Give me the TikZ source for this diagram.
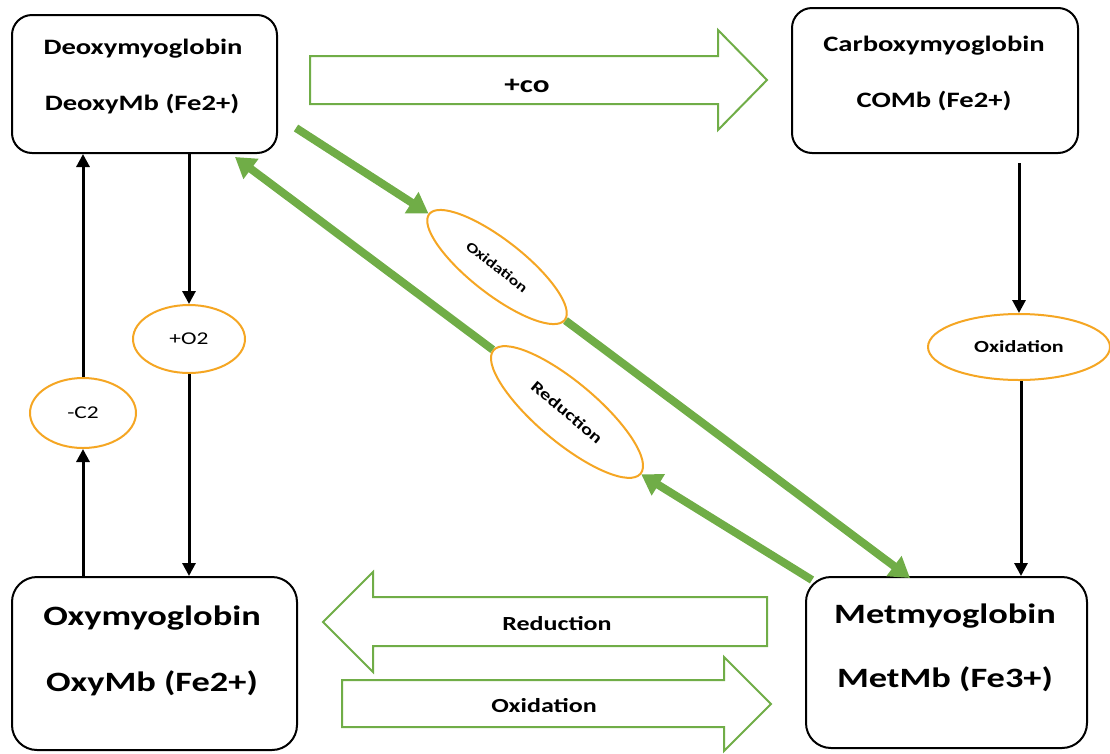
\documentclass[tikz,border=0pt]{standalone}
\usepackage{fontspec}
\setmainfont{Carlito}[FakeStretch=1.3]
\usetikzlibrary{arrows.meta,shapes.geometric}
\definecolor{grn}{RGB}{112,173,71}
\definecolor{org}{RGB}{245,166,35}
\tikzset{
  box/.style={draw=black, line width=2pt, rounded corners=20pt, fill=white},
  oval/.style={draw=org, line width=2pt, ellipse, inner sep=0pt, fill=white},
  blk/.style={draw=black, line width=3pt, -{Triangle[length=13pt,width=13pt]}},
  gline/.style={draw=grn, line width=8pt, -{Triangle[length=20pt,width=24pt]}},
  barrow/.style={draw=grn, line width=2pt, fill=white},
  bt/.style={font=\bfseries\fontsize{22}{26}\selectfont},
  bbt/.style={font=\bfseries\fontsize{28}{32}\selectfont},
}
\begin{document}
\begin{tikzpicture}[x=1pt,y=-1pt]
\useasboundingbox (0,0) rectangle (1110,753);
% boxes
\node[box, minimum width=265pt, minimum height=138pt] (deoxy) at (144.5,84) {};
\node[bt] (deoxyA) at (143,49) {Deoxymyoglobin};
\node[bt] (deoxyB) at (142,104) {DeoxyMb (Fe2+)};
\node[box, minimum width=286pt, minimum height=145pt] (carb) at (935,80.5) {};
\node[bt] (carbA) at (934,46) {Carboxymyoglobin};
\node[bt] (carbB) at (934,101) {COMb (Fe2+)};
\node[box, rounded corners=25pt, minimum width=285pt, minimum height=173pt] (oxy) at (154.5,663.5) {};
\node[bbt] (oxyA) at (152,618) {Oxymyoglobin};
\node[bbt] (oxyB) at (152,683) {OxyMb (Fe2+)};
\node[box, rounded corners=25pt, minimum width=281pt, minimum height=171pt] (met) at (946.5,662.5) {};
\node[bbt] (metA) at (945,616) {Metmyoglobin};
\node[bbt] (metB) at (945,679) {MetMb (Fe3+)};
% ellipses
\node[oval, minimum width=112pt, minimum height=68pt, font=\fontsize{18}{21}\selectfont] (o2) at (189,339) {+O2};
\node[oval, minimum width=106pt, minimum height=70pt, font=\fontsize{18}{21}\selectfont] (c2) at (83,413) {-C2};
\node[oval, minimum width=182pt, minimum height=66pt, font=\bfseries\fontsize{17}{20}\selectfont] (oxr) at (1019,347) {Oxidation};
\node[oval, rotate=-38, minimum width=172pt, minimum height=54pt, font=\bfseries\fontsize{14}{17}\selectfont] (ox1) at (497,267) {Oxidation};
\node[oval, rotate=-40, minimum width=192pt, minimum height=60pt, font=\bfseries\fontsize{16}{19}\selectfont] (red1) at (567,412) {Reduction};
% black arrows
\draw[blk] (o2.north |- deoxy.south) -- (o2.north);
\draw[blk] (o2.south) -- (o2.south |- oxy.north);
\draw[blk] (c2.south |- oxy.north) -- (c2.south);
\draw[blk] (c2.north) -- (c2.north |- deoxy.south);
\draw[blk] ([yshift=-9pt]oxr.north |- carb.south) -- (oxr.north);
\draw[blk] ([xshift=2pt]oxr.south) -- ([xshift=2pt]oxr.south |- met.north);
% green diagonal arrows
\coordinate (g1) at (296,128);
\coordinate (g2) at (910,578);
\coordinate (g3) at (812,580);
\coordinate (g4) at (235,157);
\draw[gline] (g1) -- (ox1.west);
\draw[gline] (ox1.east) -- (g2);
\draw[gline] (g3) -- (red1.east);
\draw[gline] (red1.west) -- (g4);
% block arrows
\draw[barrow] (310,56) -- (718,56) -- (718,30) -- (767,80) -- (718,130) -- (718,104) -- (310,104) -- cycle;
\node[bt, font=\bfseries\fontsize{24}{28}\selectfont] (co) at (527,86) {+co};
\draw[barrow] (767,597) -- (373,597) -- (373,572) -- (323,622) -- (373,672) -- (373,646) -- (767,646) -- cycle;
\node[font=\bfseries\fontsize{20}{24}\selectfont] (redB) at (557,624) {Reduction};
\draw[barrow] (342,680) -- (724,680) -- (724,657) -- (771,704) -- (724,751) -- (724,727) -- (342,727) -- cycle;
\node[font=\bfseries\fontsize{20}{24}\selectfont] (oxB) at (544,706) {Oxidation};
\end{tikzpicture}
\end{document}
